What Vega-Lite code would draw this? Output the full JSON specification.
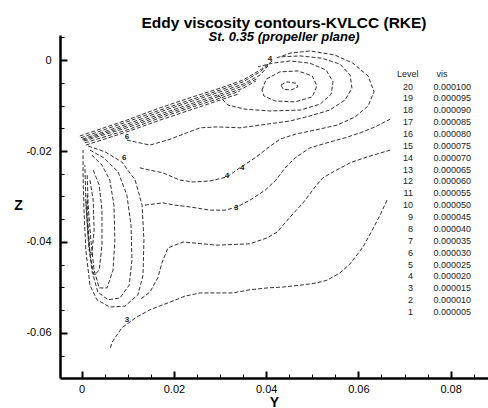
{
  "$schema": "https://vega.github.io/schema/vega-lite/v6.json",
  "width": 428,
  "height": 343,
  "autosize": {"type": "none"},
  "padding": {"left": 60, "top": 35, "right": 0, "bottom": 30},
  "background": "white",
  "config": {"view": {"stroke": null}, "font": "Liberation Sans", "axis": {"grid": false}},
  "title": {
    "text": "Eddy viscosity contours-KVLCC (RKE)",
    "subtitle": "St. 0.35 (propeller plane)",
    "anchor": "middle",
    "dx": 10,
    "offset": -9,
    "font": "Liberation Sans",
    "fontSize": 15.5,
    "fontWeight": "bold",
    "color": "#000",
    "subtitleFont": "Liberation Sans",
    "subtitleFontSize": 13,
    "subtitleFontWeight": "bold",
    "subtitleFontStyle": "italic",
    "subtitleColor": "#000",
    "subtitlePadding": 0
  },
  "datasets": {
    "contours": [
      {"c":20,"x":0.0432,"y":-0.0055},{"c":20,"x":0.0445,"y":-0.0048},{"c":20,"x":0.0465,"y":-0.0051},{"c":20,"x":0.0469,"y":-0.0059},{"c":20,"x":0.0454,"y":-0.0066},{"c":20,"x":0.0437,"y":-0.0064},{"c":20,"x":0.0432,"y":-0.0055},
      {"c":19,"x":0.0391,"y":-0.0066},{"c":19,"x":0.0400,"y":-0.0042},{"c":19,"x":0.0430,"y":-0.0026},{"c":19,"x":0.0469,"y":-0.0024},{"c":19,"x":0.0500,"y":-0.0035},{"c":19,"x":0.0510,"y":-0.0057},{"c":19,"x":0.0500,"y":-0.0081},{"c":19,"x":0.0463,"y":-0.0092},{"c":19,"x":0.0419,"y":-0.0090},{"c":19,"x":0.0395,"y":-0.0079},{"c":19,"x":0.0391,"y":-0.0066},
      {"c":18,"x":0.0296,"y":-0.0077},{"c":18,"x":0.0317,"y":-0.0099},{"c":18,"x":0.0354,"y":-0.0108},{"c":18,"x":0.0408,"y":-0.0112},{"c":18,"x":0.0474,"y":-0.0110},{"c":18,"x":0.0517,"y":-0.0097},{"c":18,"x":0.0541,"y":-0.0075},{"c":18,"x":0.0545,"y":-0.0048},{"c":18,"x":0.0530,"y":-0.0022},{"c":18,"x":0.0495,"y":-0.0007},{"c":18,"x":0.0452,"y":-0.0002},{"c":18,"x":0.0413,"y":-0.0007},{"c":18,"x":0.0382,"y":-0.0015},
      {"c":17,"x":0.0009,"y":-0.0187},{"c":17,"x":0.0098,"y":-0.0158},{"c":17,"x":0.0170,"y":-0.0132},{"c":17,"x":0.0241,"y":-0.0108},{"c":17,"x":0.0300,"y":-0.0088},{"c":17,"x":0.0339,"y":-0.0075},
      {"c":16,"x":0.0007,"y":-0.0182},{"c":16,"x":0.0098,"y":-0.0154},{"c":16,"x":0.0170,"y":-0.0127},{"c":16,"x":0.0241,"y":-0.0103},{"c":16,"x":0.0300,"y":-0.0084},{"c":16,"x":0.0343,"y":-0.0068},
      {"c":15,"x":0.0005,"y":-0.0178},{"c":15,"x":0.0098,"y":-0.0149},{"c":15,"x":0.0170,"y":-0.0123},{"c":15,"x":0.0241,"y":-0.0099},{"c":15,"x":0.0300,"y":-0.0079},{"c":15,"x":0.0350,"y":-0.0062},{"c":15,"x":0.0378,"y":-0.0046},
      {"c":14,"x":0.0003,"y":-0.0176},{"c":14,"x":0.0098,"y":-0.0145},{"c":14,"x":0.0170,"y":-0.0119},{"c":14,"x":0.0241,"y":-0.0095},{"c":14,"x":0.0300,"y":-0.0075},{"c":14,"x":0.0350,"y":-0.0057},{"c":14,"x":0.0382,"y":-0.0040},
      {"c":13,"x":0.0001,"y":-0.0174},{"c":13,"x":0.0098,"y":-0.0141},{"c":13,"x":0.0170,"y":-0.0114},{"c":13,"x":0.0241,"y":-0.0090},{"c":13,"x":0.0300,"y":-0.0070},{"c":13,"x":0.0350,"y":-0.0053},{"c":13,"x":0.0387,"y":-0.0033},{"c":13,"x":0.0404,"y":-0.0013},
      {"c":12,"x":-0.0002,"y":-0.0171},{"c":12,"x":0.0098,"y":-0.0136},{"c":12,"x":0.0170,"y":-0.0110},{"c":12,"x":0.0241,"y":-0.0086},{"c":12,"x":0.0300,"y":-0.0066},{"c":12,"x":0.0350,"y":-0.0048},{"c":12,"x":0.0387,"y":-0.0026},{"c":12,"x":0.0408,"y":-0.0007},
      {"c":11,"x":-0.0004,"y":-0.0167},{"c":11,"x":0.0098,"y":-0.0132},{"c":11,"x":0.0170,"y":-0.0105},{"c":11,"x":0.0241,"y":-0.0081},{"c":11,"x":0.0300,"y":-0.0062},{"c":11,"x":0.0350,"y":-0.0044},{"c":11,"x":0.0387,"y":-0.0022},{"c":11,"x":0.0413,"y":-0.0002},
      {"c":10,"x":0.0018,"y":-0.0264},{"c":10,"x":0.0025,"y":-0.0308},{"c":10,"x":0.0027,"y":-0.0374},{"c":10,"x":0.0022,"y":-0.0429},{"c":10,"x":0.0016,"y":-0.0418},{"c":10,"x":0.0012,"y":-0.0363},{"c":10,"x":0.0009,"y":-0.0308},
      {"c":9,"x":0.0025,"y":-0.0242},{"c":9,"x":0.0038,"y":-0.0275},{"c":9,"x":0.0044,"y":-0.0330},{"c":9,"x":0.0044,"y":-0.0407},{"c":9,"x":0.0038,"y":-0.0462},{"c":9,"x":0.0027,"y":-0.0473},{"c":9,"x":0.0018,"y":-0.0429},{"c":9,"x":0.0014,"y":-0.0363},{"c":9,"x":0.0012,"y":-0.0297},
      {"c":8,"x":0.0022,"y":-0.0209},{"c":8,"x":0.0044,"y":-0.0231},{"c":8,"x":0.0061,"y":-0.0264},{"c":8,"x":0.0070,"y":-0.0319},{"c":8,"x":0.0072,"y":-0.0396},{"c":8,"x":0.0068,"y":-0.0462},{"c":8,"x":0.0055,"y":-0.0501},{"c":8,"x":0.0038,"y":-0.0501},{"c":8,"x":0.0027,"y":-0.0462},{"c":8,"x":0.0020,"y":-0.0396},{"c":8,"x":0.0014,"y":-0.0319},{"c":8,"x":0.0012,"y":-0.0253},
      {"c":7,"x":0.0018,"y":-0.0198},{"c":7,"x":0.0048,"y":-0.0215},{"c":7,"x":0.0079,"y":-0.0246},{"c":7,"x":0.0098,"y":-0.0297},{"c":7,"x":0.0107,"y":-0.0363},{"c":7,"x":0.0109,"y":-0.0440},{"c":7,"x":0.0103,"y":-0.0495},{"c":7,"x":0.0083,"y":-0.0523},{"c":7,"x":0.0057,"y":-0.0527},{"c":7,"x":0.0035,"y":-0.0510},{"c":7,"x":0.0022,"y":-0.0462},{"c":7,"x":0.0014,"y":-0.0385},{"c":7,"x":0.0009,"y":-0.0308},{"c":7,"x":0.0007,"y":-0.0231},
      {"c":6,"x":0.0014,"y":-0.0189},{"c":6,"x":0.0051,"y":-0.0202},{"c":6,"x":0.0087,"y":-0.0224},{"c":6,"x":0.0116,"y":-0.0264},{"c":6,"x":0.0131,"y":-0.0319},{"c":6,"x":0.0135,"y":-0.0396},{"c":6,"x":0.0133,"y":-0.0473},{"c":6,"x":0.0122,"y":-0.0516},{"c":6,"x":0.0094,"y":-0.0541},{"c":6,"x":0.0061,"y":-0.0543},{"c":6,"x":0.0033,"y":-0.0527},{"c":6,"x":0.0018,"y":-0.0495},{"c":6,"x":0.0009,"y":-0.0418},{"c":6,"x":0.0005,"y":-0.0330},{"c":6,"x":0.0003,"y":-0.0253},{"c":6,"x":0.0003,"y":-0.0198},
      {"c":5,"x":0.0098,"y":-0.0176},{"c":5,"x":0.0148,"y":-0.0187},{"c":5,"x":0.0192,"y":-0.0174},{"c":5,"x":0.0228,"y":-0.0160},{"c":5,"x":0.0257,"y":-0.0149},{"c":5,"x":0.0294,"y":-0.0147},{"c":5,"x":0.0343,"y":-0.0149},{"c":5,"x":0.0387,"y":-0.0143},{"c":5,"x":0.0452,"y":-0.0134},{"c":5,"x":0.0495,"y":-0.0123},{"c":5,"x":0.0538,"y":-0.0110},{"c":5,"x":0.0571,"y":-0.0088},{"c":5,"x":0.0586,"y":-0.0062},{"c":5,"x":0.0582,"y":-0.0033},{"c":5,"x":0.0560,"y":-0.0009},{"c":5,"x":0.0521,"y":0.0004},{"c":5,"x":0.0474,"y":0.0009},{"c":5,"x":0.0430,"y":0.0007},
      {"c":4,"x":0.0126,"y":-0.0237},{"c":4,"x":0.0148,"y":-0.0242},{"c":4,"x":0.0176,"y":-0.0248},{"c":4,"x":0.0213,"y":-0.0264},{"c":4,"x":0.0241,"y":-0.0268},{"c":4,"x":0.0278,"y":-0.0266},{"c":4,"x":0.0315,"y":-0.0257},{"c":4,"x":0.0343,"y":-0.0237},{"c":4,"x":0.0376,"y":-0.0215},{"c":4,"x":0.0404,"y":-0.0193},{"c":4,"x":0.0430,"y":-0.0174},{"c":4,"x":0.0463,"y":-0.0163},{"c":4,"x":0.0506,"y":-0.0154},{"c":4,"x":0.0554,"y":-0.0143},{"c":4,"x":0.0593,"y":-0.0125},{"c":4,"x":0.0621,"y":-0.0101},{"c":4,"x":0.0634,"y":-0.0070},{"c":4,"x":0.0621,"y":-0.0035},{"c":4,"x":0.0588,"y":-0.0007},{"c":4,"x":0.0549,"y":0.0011},{"c":4,"x":0.0495,"y":0.0020},{"c":4,"x":0.0452,"y":0.0015},{"c":4,"x":0.0421,"y":0.0004},
      {"c":3,"x":0.0137,"y":-0.0319},{"c":3,"x":0.0176,"y":-0.0314},{"c":3,"x":0.0202,"y":-0.0319},{"c":3,"x":0.0235,"y":-0.0323},{"c":3,"x":0.0278,"y":-0.0330},{"c":3,"x":0.0311,"y":-0.0330},{"c":3,"x":0.0337,"y":-0.0323},{"c":3,"x":0.0365,"y":-0.0308},{"c":3,"x":0.0398,"y":-0.0286},{"c":3,"x":0.0421,"y":-0.0264},{"c":3,"x":0.0441,"y":-0.0237},{"c":3,"x":0.0463,"y":-0.0215},{"c":3,"x":0.0495,"y":-0.0193},{"c":3,"x":0.0532,"y":-0.0182},{"c":3,"x":0.0571,"y":-0.0171},{"c":3,"x":0.0604,"y":-0.0160},{"c":3,"x":0.0636,"y":-0.0147},{"c":3,"x":0.0669,"y":-0.0130},
      {"c":2,"x":0.0669,"y":-0.0198},{"c":2,"x":0.0619,"y":-0.0213},{"c":2,"x":0.0582,"y":-0.0226},{"c":2,"x":0.0545,"y":-0.0246},{"c":2,"x":0.0523,"y":-0.0259},{"c":2,"x":0.0506,"y":-0.0279},{"c":2,"x":0.0480,"y":-0.0314},{"c":2,"x":0.0452,"y":-0.0345},{"c":2,"x":0.0424,"y":-0.0378},{"c":2,"x":0.0402,"y":-0.0391},{"c":2,"x":0.0365,"y":-0.0404},{"c":2,"x":0.0293,"y":-0.0407},{"c":2,"x":0.0220,"y":-0.0400},{"c":2,"x":0.0187,"y":-0.0413},{"c":2,"x":0.0174,"y":-0.0446},{"c":2,"x":0.0165,"y":-0.0479},{"c":2,"x":0.0148,"y":-0.0510},{"c":2,"x":0.0126,"y":-0.0527},
      {"c":1,"x":0.0662,"y":-0.0308},{"c":1,"x":0.0647,"y":-0.0341},{"c":1,"x":0.0630,"y":-0.0374},{"c":1,"x":0.0610,"y":-0.0411},{"c":1,"x":0.0582,"y":-0.0448},{"c":1,"x":0.0560,"y":-0.0468},{"c":1,"x":0.0532,"y":-0.0484},{"c":1,"x":0.0510,"y":-0.0490},{"c":1,"x":0.0474,"y":-0.0495},{"c":1,"x":0.0437,"y":-0.0499},{"c":1,"x":0.0402,"y":-0.0501},{"c":1,"x":0.0365,"y":-0.0505},{"c":1,"x":0.0328,"y":-0.0512},{"c":1,"x":0.0257,"y":-0.0512},{"c":1,"x":0.0224,"y":-0.0519},{"c":1,"x":0.0192,"y":-0.0532},{"c":1,"x":0.0148,"y":-0.0549},{"c":1,"x":0.0116,"y":-0.0567},{"c":1,"x":0.0087,"y":-0.0589},{"c":1,"x":0.0066,"y":-0.0620},{"c":1,"x":0.0061,"y":-0.0637}
    ],
    "labels": [
      {"t":"6","x":0.0098,"y":-0.0169},
      {"t":"6","x":0.0092,"y":-0.0215},
      {"t":"4","x":0.0315,"y":-0.0255},
      {"t":"4","x":0.0348,"y":-0.0237},
      {"t":"3","x":0.0335,"y":-0.0325},
      {"t":"3","x":0.0098,"y":-0.0571},
      {"t":"4","x":0.0408,"y":0.0002}
    ]
  },
  "resolve": {"axis": {"x": "independent", "y": "independent"}},
  "layer": [
    {
      "data": {"name": "contours"},
      "mark": {"type": "line", "strokeWidth": 0.9, "strokeDash": [4, 2], "clip": true},
      "encoding": {
        "x": {
          "field": "x", "type": "quantitative",
          "scale": {"domain": [-0.0047, 0.0881], "nice": false, "zero": false},
          "axis": {
            "orient": "bottom",
            "values": [0, 0.02, 0.04, 0.06, 0.08],
            "labelExpr": "abs(datum.value) < 1e-9 ? '0' : format(datum.value, '.2f')",
            "ticks": false,
            "domainColor": "#000", "domainWidth": 2.5,
            "labelFont": "Liberation Sans", "labelFontSize": 11, "labelColor": "#000", "labelPadding": 5,
            "labelFlush": false, "labelOverlap": false,
            "title": "Y", "titleFont": "Liberation Sans", "titleFontSize": 14, "titleFontWeight": "bold", "titleColor": "#000",
            "titleX": 214, "titleY": 24, "titleBaseline": "middle", "titleAlign": "center"
          }
        },
        "y": {
          "field": "y", "type": "quantitative",
          "scale": {"domain": [-0.0699, 0.0055], "nice": false, "zero": false},
          "axis": {
            "orient": "left",
            "values": [0, -0.02, -0.04, -0.06],
            "labelExpr": "abs(datum.value) < 1e-9 ? '0' : '-' + format(abs(datum.value), '.2f')",
            "ticks": false,
            "domainColor": "#000", "domainWidth": 2.5,
            "labelFont": "Liberation Sans", "labelFontSize": 11, "labelColor": "#000", "labelPadding": 9,
            "labelFlush": false, "labelOverlap": false,
            "title": "Z", "titleFont": "Liberation Sans", "titleFontSize": 14, "titleFontWeight": "bold", "titleColor": "#000",
            "titleAngle": 0, "titleX": -42, "titleY": 170, "titleBaseline": "middle", "titleAlign": "center"
          }
        },
        "stroke": {
          "field": "c", "type": "ordinal",
          "scale": {"domain": [20,19,18,17,16,15,14,13,12,11,10,9,8,7,6,5,4,3,2,1], "range": ["#1a1a1a"]},
          "legend": {
            "orient": "none", "legendX": 337, "legendY": 35, "direction": "vertical", "padding": 0,
            "title": "Level\u2003\u2003vis",
            "titleFont": "Liberation Sans", "titleFontSize": 9, "titleFontWeight": "normal", "titleColor": "#222", "titlePadding": 3,
            "labelFont": "Liberation Sans", "labelFontSize": 9, "labelColor": "#222", "labelOffset": 65, "labelAlign": "right",
            "labelExpr": "datum.label + '\u2003\u2003\u00a0' + format(datum.value * 0.000005, '.6f')",
            "symbolSize": 0, "symbolStrokeWidth": 0, "symbolOpacity": 0, "rowPadding": 1.87
          }
        },
        "order": {"value": null}
      }
    },
    {
      "data": {"name": "labels"},
      "mark": {"type": "text", "fontSize": 8, "fontWeight": "bold", "fill": "#222", "font": "Liberation Sans"},
      "encoding": {
        "x": {"field": "x", "type": "quantitative",
          "axis": {"orient": "bottom", "values": [0, 0.02, 0.04, 0.06, 0.08], "tickSize": -7, "tickWidth": 2, "tickColor": "#000", "domain": false, "labels": false, "title": null}},
        "y": {"field": "y", "type": "quantitative",
          "axis": {"orient": "left", "values": [0, -0.02, -0.04, -0.06], "tickSize": -7, "tickWidth": 2, "tickColor": "#000", "domain": false, "labels": false, "title": null}},
        "text": {"field": "t"}
      }
    },
    {
      "data": {"name": "labels"},
      "mark": {"type": "point", "opacity": 0},
      "encoding": {
        "x": {"field": "x", "type": "quantitative",
          "axis": {"orient": "bottom", "values": [0.005,0.01,0.015,0.025,0.03,0.035,0.045,0.05,0.055,0.065,0.07,0.075,0.085], "tickSize": -4, "tickWidth": 1, "tickColor": "#000", "domain": false, "labels": false, "title": null}},
        "y": {"field": "y", "type": "quantitative",
          "axis": {"orient": "left", "values": [0.005,-0.005,-0.01,-0.015,-0.025,-0.03,-0.035,-0.045,-0.05,-0.055,-0.065], "tickSize": -4, "tickWidth": 1, "tickColor": "#000", "domain": false, "labels": false, "title": null}}
      }
    }
  ]
}
